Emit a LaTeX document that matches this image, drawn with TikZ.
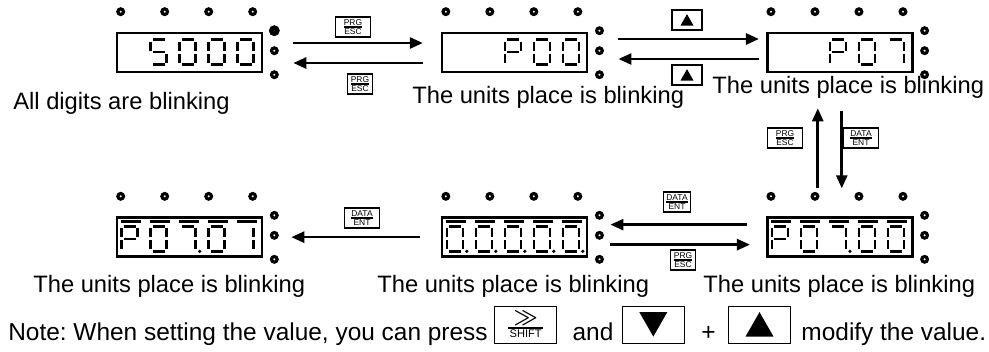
\documentclass[tikz,border=0pt]{standalone}
\usepackage{fontspec}
\setmainfont{Liberation Sans}
\usetikzlibrary{arrows.meta,positioning}

% seven-segment pieces, drawn in a cell at (\cx,\cy)
\newcommand{\seva}{\draw[seg] (\cx+2,\cy) -- (\cx+14,\cy);}
\newcommand{\sevb}{\draw[seg] (\cx+16,\cy+2) -- (\cx+16,\cy+11);}
\newcommand{\sevc}{\draw[seg] (\cx+16,\cy+14) -- (\cx+16,\cy+23);}
\newcommand{\sevd}{\draw[seg] (\cx+2,\cy+25) -- (\cx+14,\cy+25);}
\newcommand{\seve}{\draw[seg] (\cx,\cy+14) -- (\cx,\cy+23);}
\newcommand{\sevf}{\draw[seg] (\cx,\cy+2) -- (\cx,\cy+11);}
\newcommand{\sevg}{\draw[seg] (\cx+2,\cy+12.5) -- (\cx+14,\cy+12.5);}
\newcommand{\sevp}{\fill (\cx+20,\cy+25) circle (1pt);}
\newcommand{\sevo}{\draw[seg] (\cx-1,\cy-5) -- (\cx+19,\cy-5);}
\newcommand{\digit}[3]{\def\cx{#1}\def\cy{#2}\foreach \s in {#3}{\csname sev\s\endcsname}}

% indicator lamps round a display
\newcommand{\leds}[2][led]{%
  \foreach \dx in {5,49,93,137}
    \draw[led] ([shift={(\dx,-20)}]#2.north west) circle (1.6pt);
  \draw[#1] ([shift={(11,-1)}]#2.north east) circle (1.6pt);
  \foreach \dy in {19,43}
    \draw[led] ([shift={(11,\dy)}]#2.north east) circle (1.6pt);
}

\begin{document}
\frenchspacing
\begin{tikzpicture}[x=0.2mm, y=-0.2mm,
    lcd/.style={draw, line width=1.5pt, minimum width=2.9cm, minimum height=0.78cm, inner sep=0pt},
    seg/.style={line width=1.4pt},
    led/.style={draw, line width=1.8pt, fill=white},
    ledon/.style={led, fill=black, line width=2.8pt},
    arrow/.style={-{Triangle[length=2.6mm,width=2.2mm]}, line width=1.5pt},
    key/.style={draw, line width=0.7pt, minimum width=7mm, minimum height=4mm, inner sep=0.4pt, font=\fontsize{4.8}{5}\selectfont},
    narrow/.style={minimum width=5mm},
    uptri/.style={path picture={\fill ([shift={(-#1,-0.85*#1)}]path picture bounding box.center) -- ++(2*#1,0) -- ++(-#1,1.75*#1) -- cycle;}},
    downtri/.style={path picture={\fill ([shift={(-#1,0.9*#1)}]path picture bounding box.center) -- ++(2*#1,0) -- ++(-#1,-1.75*#1) -- cycle;}},
    upkey/.style={draw, line width=0.7pt, minimum width=6mm, minimum height=4mm, uptri=1.3mm},
    bigkey/.style={draw, line width=0.7pt, minimum width=12.4mm, minimum height=7.4mm, inner sep=0pt},
    lbl/.style={anchor=base west, inner sep=0pt, font=\fontsize{13.5}{16}\selectfont},
    notelbl/.style={lbl, font=\fontsize{13.9}{16}\selectfont}
  ]
    \useasboundingbox (0,0) rectangle (989,351);

    % displays
    \node[lcd] (d1) at (189.5,52.5) {};
    \node[lcd, right=3.55cm of d1] (d2) {};
    \node[lcd, right=3.55cm of d2] (d3) {};
    \node[lcd, below=2.86cm of d3] (d6) {};
    \node[lcd, left=3.55cm of d6] (d5) {};
    \node[lcd, left=3.55cm of d5] (d4) {};

    \leds[ledon]{d1}
    \leds{d2}
    \leds{d3}
    \leds{d4}
    \leds{d5}
    \leds{d6}

    \begin{scope}[shift={(d1.north west)}]
      \digit{35}{8}{a,f,g,c,d}
      \digit{64}{8}{a,b,c,d,e,f}
      \digit{93}{8}{a,b,c,d,e,f}
      \digit{122}{8}{a,b,c,d,e,f}
    \end{scope}
    \begin{scope}[shift={(d2.north west)}]
      \digit{64}{8}{a,b,f,g,e}
      \digit{93}{8}{a,b,c,d,e,f}
      \digit{122}{8}{a,b,c,d,e,f}
    \end{scope}
    \begin{scope}[shift={(d3.north west)}]
      \digit{64}{8}{a,b,f,g,e}
      \digit{93}{8}{a,b,c,d,e,f}
      \digit{122}{8}{a,b,c}
    \end{scope}
    \begin{scope}[shift={(d4.north west)}]
      \digit{6}{10}{o,a,b,f,g,e}
      \digit{35}{10}{o,a,b,c,d,e,f}
      \digit{64}{10}{o,a,b,c,p}
      \digit{93}{10}{o,a,b,c,d,e,f}
      \digit{122}{10}{o,b,c}
    \end{scope}
    \begin{scope}[shift={(d5.north west)}]
      \foreach \i in {6,35,64,93,122}
        {\digit{\i}{10}{o,a,b,c,d,e,f,p}}
    \end{scope}
    \begin{scope}[shift={(d6.north west)}]
      \digit{6}{10}{o,a,b,f,g,e}
      \digit{35}{10}{o,a,b,c,d,e,f}
      \digit{64}{10}{o,a,b,c,p}
      \digit{93}{10}{o,a,b,c,d,e,f}
      \digit{122}{10}{o,a,b,c,d,e,f}
    \end{scope}

    % transitions
    \draw[arrow] ([shift={(30,-9.5)}]d1.east) -- ([shift={(-18,-9.5)}]d2.west);
    \draw[arrow] ([shift={(-18,10.5)}]d2.west) -- ([shift={(30,10.5)}]d1.east);
    \draw[arrow] ([shift={(30,-13.5)}]d2.east) -- ([shift={(-7,-13.5)}]d3.west);
    \draw[arrow] ([shift={(-7,6.5)}]d3.west) -- ([shift={(30,6.5)}]d2.east);
    \draw[arrow] ([shift={(-22,-28)}]d6.north) -- ([shift={(-22,35)}]d3.south);
    \draw[arrow] ([shift={(2,38)}]d3.south) -- ([shift={(2,-28)}]d6.north);
    \draw[arrow] ([shift={(-19,-12.5)}]d6.west) -- ([shift={(22,-12.5)}]d5.east);
    \draw[arrow] ([shift={(22,7.5)}]d5.east) -- ([shift={(-16,7.5)}]d6.west);
    \draw[arrow] ([shift={(-21,0)}]d5.west) -- ([shift={(28,0)}]d4.east);

    % keys on the transitions
    \node[key] (k1) at (353,27) {${\mbox{PRG}\above0.6pt\mbox{ESC}}$};
    \node[key, narrow] (k2) at (360,84) {${\mbox{PRG}\above0.6pt\mbox{ESC}}$};
    \node[upkey] (k3) at (687,20) {};
    \node[upkey] (k4) at (687,75) {};
    \node[key] (k5) at (785,138) {${\mbox{PRG}\above0.6pt\mbox{ESC}}$};
    \node[key] (k6) at (861,138) {${\mbox{DATA}\above0.6pt\mbox{ENT}}$};
    \node[key, narrow] (k7) at (677,202) {${\mbox{DATA}\above0.6pt\mbox{ENT}}$};
    \node[key, narrow] (k8) at (683,260) {${\mbox{PRG}\above0.6pt\mbox{ESC}}$};
    \node[key] (k9) at (362,218) {${\mbox{DATA}\above0.6pt\mbox{ENT}}$};

    % captions
    \node[lbl] (t1) at (13,109) {All digits are blinking};
    \node[lbl] (t2) at (412,103) {The units place is blinking};
    \node[lbl] (t3) at (712,93) {The units place is blinking};
    \node[lbl] (t4) at (33,292) {The units place is blinking};
    \node[lbl] (t5) at (377,292) {The units place is blinking};
    \node[lbl] (t6) at (703,292) {The units place is blinking};

    % note line
    \node[notelbl] (note) at (8,340) {Note: When setting the value, you can press};
    \node[bigkey, right=1.2mm of note.east, yshift=1.8mm, font=\fontsize{6.3}{6}\selectfont] (kshift)
      {${\mbox{\fontsize{12}{12}\selectfont\boldmath$\gg$}\above0.8pt\mbox{\,SHIFT\,}}$};
    \path (kshift.east |- note.base) ++(3mm,0) node[notelbl] (and) {and};
    \path (and.east |- kshift.center) ++(1.6mm,0) node[bigkey, anchor=west, downtri=2.8mm] (kdown) {};
    \path (kdown.east |- note.base) ++(3.2mm,0) node[notelbl] (plus) {+};
    \path (plus.east |- kshift.center) ++(2.4mm,0) node[bigkey, anchor=west, uptri=2.8mm] (kup) {};
    \path (kup.east |- note.base) ++(2mm,0) node[notelbl] (mod) {modify the value.};
  \end{tikzpicture}
\end{document}
